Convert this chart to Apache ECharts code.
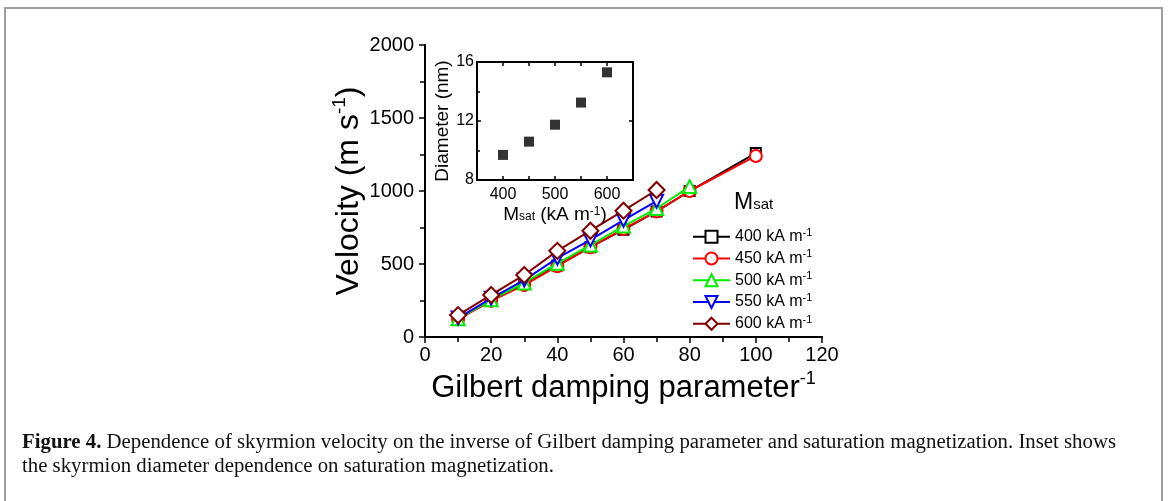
<!DOCTYPE html>
<html>
<head>
<meta charset="utf-8">
<title>Skyrmion velocity vs inverse Gilbert damping</title>
<script src="https://cdn.jsdelivr.net/npm/echarts@6/dist/echarts.min.js"></script>
<style>
  html, body { margin: 0; padding: 0; background: #fff; }
  #chart { width: 1168px; height: 501px; }
</style>
</head>
<body>
<div id="chart"></div>
<script>
// main plot: velocity vs 1/alpha, one curve per Msat
const invAlpha = [10, 20, 30, 40, 50, 60, 70, 80, 100];
const msatNames = ['400', '450', '500', '550', '600'];
const vel400 = [125, 250, 365, 490, 615, 735, 860, 1000, 1260];
const vel450 = [122, 248, 355, 485, 615, 740, 860, 1000, 1240];
const vel500 = [125, 255, 370, 505, 630, 760, 880, 1030];
const vel550 = [130, 265, 390, 540, 665, 800, 930];
const vel600 = [150, 288, 425, 590, 728, 865, 1007];

// inset: skyrmion diameter vs Msat
const insetMsat = [400, 450, 500, 550, 600];
const insetDiameter = [9.7, 10.6, 11.75, 13.25, 15.3];
const insetXLabels = [400, 500, 600];

const velocities = [vel400, vel450, vel500, vel550, vel600];
const looks = [
  { color: '#000000', symbol: 'emptyRect', size: 10, rotate: 0 },
  { color: '#ff0000', symbol: 'emptyCircle', size: 12, rotate: 0 },
  { color: '#00ee00', symbol: 'emptyTriangle', size: 13, rotate: 0 },
  { color: '#0000ff', symbol: 'emptyTriangle', size: 13, rotate: 180 },
  { color: '#800000', symbol: 'emptyDiamond', size: 16, rotate: 0 }
];

const FONT = 'Liberation Sans';
const black = { color: '#000', width: 2 };
const plain = function (v) { return String(v); };

const lineSeries = velocities.map(function (vals, i) {
  const lk = looks[i];
  return {
    name: msatNames[i],
    type: 'line',
    xAxisIndex: 0,
    yAxisIndex: 0,
    data: vals.map(function (v, j) { return [invAlpha[j], v]; }),
    symbol: lk.symbol,
    symbolSize: lk.size,
    symbolRotate: lk.rotate,
    showAllSymbol: true,
    lineStyle: { color: lk.color, width: 2 },
    itemStyle: { color: lk.color, borderWidth: 2 },
    emphasis: { disabled: true },
    z: 3 + i
  };
});

const chart = echarts.init(document.getElementById('chart'));
chart.setOption({
  animation: false,
  backgroundColor: '#fff',
  textStyle: { fontFamily: FONT },
  grid: [
    { left: 425, top: 45, width: 397, height: 292 },
    { left: 477, top: 62, width: 156, height: 118, show: true, backgroundColor: '#fff', borderWidth: 0 }
  ],
  xAxis: [
    {
      gridIndex: 0, type: 'value', position: 'bottom', min: 0, max: 120, interval: 20,
      axisLine: { lineStyle: black },
      axisTick: { length: 6, lineStyle: { color: '#000', width: 1.5 } },
      minorTick: { show: true, splitNumber: 2, length: 3, lineStyle: { color: '#000', width: 1.5 } },
      splitLine: { show: false },
      axisLabel: { color: '#000', fontSize: 20, margin: 8, fontFamily: FONT, formatter: plain },
      name: '{a|Gilbert damping parameter}{s|-1}',
      nameLocation: 'middle', nameGap: 29,
      nameTextStyle: {
        rich: {
          a: { fontSize: 31, lineHeight: 37, fontFamily: FONT, color: '#000' },
          s: { fontSize: 18, lineHeight: 18, verticalAlign: 'top', fontFamily: FONT, color: '#000' }
        }
      }
    },
    {
      gridIndex: 0, type: 'value', position: 'top', min: 0, max: 120, interval: 10,
      axisLine: { lineStyle: black },
      axisTick: { inside: true, length: 5, lineStyle: { color: '#000', width: 1.5 } },
      axisLabel: { show: false }, splitLine: { show: false }
    },
    {
      gridIndex: 1, type: 'value', position: 'bottom', min: 350, max: 650, interval: 50,
      axisLine: { lineStyle: black },
      axisTick: { inside: true, length: 4, lineStyle: { color: '#000', width: 1.5 } },
      splitLine: { show: false },
      axisLabel: {
        color: '#000', fontSize: 16, margin: 7, fontFamily: FONT,
        formatter: function (v) { return insetXLabels.indexOf(v) > -1 ? String(v) : ''; }
      },
      name: '{a|M}{b|sat}{a| (kA m}{s|-1}{a|)}',
      nameLocation: 'middle', nameGap: 26,
      nameTextStyle: {
        rich: {
          a: { fontSize: 19, lineHeight: 21, padding: [0, 0, 3, 0], fontFamily: FONT, color: '#000' },
          b: { fontSize: 12, lineHeight: 12, fontFamily: FONT, color: '#000' },
          s: { fontSize: 12, lineHeight: 12, verticalAlign: 'top', fontFamily: FONT, color: '#000' }
        }
      }
    },
    {
      gridIndex: 1, type: 'value', position: 'top', min: 350, max: 650, interval: 50,
      axisLine: { lineStyle: black },
      axisTick: { inside: true, length: 4, lineStyle: { color: '#000', width: 1.5 } },
      axisLabel: { show: false }, splitLine: { show: false }
    }
  ],
  yAxis: [
    {
      gridIndex: 0, type: 'value', position: 'left', min: 0, max: 2000, interval: 500,
      axisLine: { show: true, lineStyle: black },
      axisTick: { show: true, length: 6, lineStyle: { color: '#000', width: 1.5 } },
      minorTick: { show: true, splitNumber: 2, length: 3, lineStyle: { color: '#000', width: 1.5 } },
      splitLine: { show: false },
      axisLabel: { color: '#000', fontSize: 20, margin: 11, fontFamily: FONT, formatter: plain },
      name: '{a|Velocity (m s}{s|-1}{a|)}',
      nameLocation: 'middle', nameRotate: 90, nameGap: 52,
      nameTextStyle: {
        rich: {
          a: { fontSize: 32, lineHeight: 38, fontFamily: FONT, color: '#000' },
          s: { fontSize: 19, lineHeight: 19, verticalAlign: 'top', fontFamily: FONT, color: '#000' }
        }
      }
    },
    {
      gridIndex: 0, type: 'value', position: 'right', min: 0, max: 2000, interval: 250,
      axisLine: { show: true, lineStyle: black },
      axisTick: { show: true, inside: true, length: 5, lineStyle: { color: '#000', width: 1.5 } },
      axisLabel: { show: false }, splitLine: { show: false }
    },
    {
      gridIndex: 1, type: 'value', position: 'left', min: 8, max: 16, interval: 4,
      axisLine: { show: true, lineStyle: black },
      axisTick: { show: true, inside: true, length: 4, lineStyle: { color: '#000', width: 1.5 } },
      minorTick: { show: true, splitNumber: 2, length: 3, lineStyle: { color: '#000', width: 1.5 } },
      splitLine: { show: false },
      axisLabel: { color: '#000', fontSize: 16, margin: 3, fontFamily: FONT },
      name: 'Diameter (nm)',
      nameLocation: 'middle', nameRotate: 90, nameGap: 22,
      nameTextStyle: { fontSize: 19, color: '#000', fontFamily: FONT }
    },
    {
      gridIndex: 1, type: 'value', position: 'right', min: 8, max: 16, interval: 4,
      axisLine: { show: true, lineStyle: black },
      axisTick: { show: true, inside: true, length: 4, lineStyle: { color: '#000', width: 1.5 } },
      axisLabel: { show: false }, splitLine: { show: false }
    }
  ],
  legend: {
    data: msatNames,
    orient: 'vertical',
    left: 692, top: 227,
    padding: 0,
    itemWidth: 37, itemHeight: 15, itemGap: 4,
    symbolRotate: 'inherit',
    selectedMode: false,
    formatter: function (n) { return '{n|' + n + ' kA m}{s|-1}'; },
    textStyle: {
      rich: {
        n: { fontSize: 16, lineHeight: 19.5, fontFamily: FONT, color: '#000' },
        s: { fontSize: 11, lineHeight: 11, verticalAlign: 'top', fontFamily: FONT, color: '#000' }
      }
    }
  },
  series: lineSeries.concat([{
    name: 'diameter',
    type: 'scatter',
    xAxisIndex: 2,
    yAxisIndex: 2,
    data: insetMsat.map(function (m, j) { return [m, insetDiameter[j]]; }),
    symbol: 'rect',
    symbolSize: 10,
    itemStyle: { color: '#000' },
    emphasis: { disabled: true },
    z: 10
  }]),
  graphic: [
    {
      type: 'rect', silent: true, z: 100,
      shape: { x: 5, y: 8, width: 1157, height: 520 },
      style: { fill: 'none', stroke: '#a0a0a0', lineWidth: 2 }
    },
    {
      type: 'text', left: 734, top: 191, silent: true, z: 100,
      style: {
        text: '{m|M}{s|sat}',
        rich: {
          m: { fontSize: 23, lineHeight: 23, padding: [0, 0, 5, 0], fontFamily: FONT, fill: '#000' },
          s: { fontSize: 15, lineHeight: 15, fontFamily: FONT, fill: '#000' }
        }
      }
    },
    {
      type: 'text', left: 22, top: 431, silent: true, z: 100,
      style: {
        text: '{b|Figure 4.} Dependence of skyrmion velocity on the inverse of Gilbert damping parameter and saturation magnetization. Inset shows\nthe skyrmion diameter dependence on saturation magnetization.',
        font: '20.8px "Liberation Serif"',
        lineHeight: 24,
        fill: '#111',
        rich: {
          b: { fontWeight: 'bold', fontSize: 20.8, fontFamily: 'Liberation Serif', lineHeight: 24, fill: '#111' }
        }
      }
    }
  ]
});
</script>
</body>
</html>
